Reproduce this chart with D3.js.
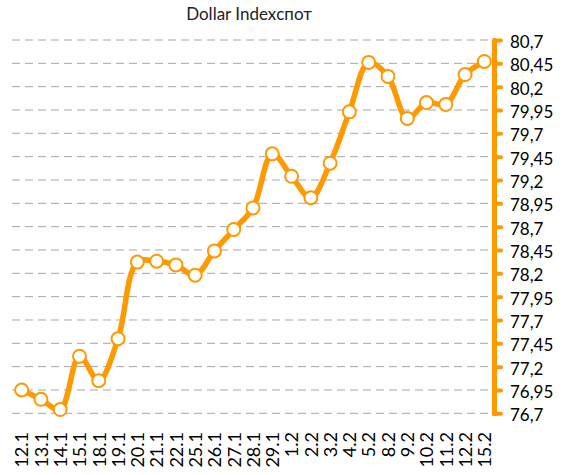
<!DOCTYPE html>
<html>
<head>
<meta charset="utf-8">
<script src="https://cdn.jsdelivr.net/npm/d3@7"></script>
<style>
  html, body { margin: 0; padding: 0; background: #fff; }
  svg { display: block; font-family: Lato, "Noto Sans", sans-serif; }
</style>
</head>
<body>
<svg id="chart" width="574" height="475"></svg>
<script>
// Dollar Index spot quotes, January–February
const dates = ["12.1","13.1","14.1","15.1","18.1","19.1","20.1","21.1","22.1","25.1","26.1","27.1","28.1","29.1",
               "1.2","2.2","3.2","4.2","5.2","8.2","9.2","10.2","11.2","12.2","15.2"];
const values = [76.95, 76.85, 76.74, 77.31, 77.05, 77.50, 78.32, 78.33, 78.29, 78.18, 78.44, 78.67, 78.90, 79.48,
                79.24, 79.01, 79.38, 79.93, 80.46, 80.31, 79.86, 80.03, 80.01, 80.33, 80.47];
const yTicks = [76.7, 76.95, 77.2, 77.45, 77.7, 77.95, 78.2, 78.45, 78.7, 78.95, 79.2, 79.45, 79.7, 79.95, 80.2, 80.45, 80.7];
const title = "Dollar Indexспот";

const orange = "#FF9900";
const svg = d3.select("#chart");

const x = d3.scalePoint().domain(dates).range([12, 494]).padding(0.5);
const y = d3.scaleLinear().domain([76.7, 80.7]).range([413.3, 40]);

const fmt = v => String(+v.toFixed(2)).replace(".", ",");

// dashed horizontal gridlines
svg.append("g")
  .selectAll("line")
  .data(yTicks)
  .join("line")
  .attr("x1", 12).attr("x2", 490)
  .attr("y1", d => y(d)).attr("y2", d => y(d))
  .attr("stroke", "#a6a6a6")
  .attr("stroke-width", 1)
  .attr("stroke-dasharray", "8,5");

// title
svg.append("text")
  .attr("x", 249).attr("y", 20)
  .attr("text-anchor", "middle")
  .attr("font-size", 17)
  .attr("fill", "#222")
  .text(title);

// smoothed series line
const line = d3.line()
  .x((d, i) => x(dates[i]))
  .y(d => y(d))
  .curve(d3.curveCatmullRom.alpha(0.5));

svg.append("path")
  .datum(values)
  .attr("d", line)
  .attr("fill", "none")
  .attr("stroke", orange)
  .attr("stroke-width", 5.5)
  .attr("stroke-linejoin", "round")
  .attr("stroke-linecap", "round");

// point markers
svg.append("g")
  .selectAll("circle")
  .data(values)
  .join("circle")
  .attr("cx", (d, i) => x(dates[i]))
  .attr("cy", d => y(d))
  .attr("r", 6.5)
  .attr("fill", "#fff")
  .attr("stroke", orange)
  .attr("stroke-width", 2);

// right value axis
const yAxis = svg.append("g")
  .attr("transform", "translate(494,0)")
  .call(d3.axisRight(y).tickValues(yTicks).tickFormat(fmt).tickSize(7).tickSizeOuter(0).tickPadding(9));
yAxis.select(".domain")
  .attr("stroke", orange).attr("stroke-width", 5).attr("stroke-linecap", "round");
yAxis.selectAll(".tick line")
  .attr("stroke", orange).attr("stroke-width", 4).attr("stroke-linecap", "round");
yAxis.selectAll(".tick text")
  .attr("font-size", 17).attr("fill", "#000")
  .attr("font-family", "Lato, 'Noto Sans', sans-serif")
  .attr("dy", "0.45em");

// category axis with vertical labels
const xAxis = svg.append("g")
  .attr("transform", "translate(0,414)")
  .call(d3.axisBottom(x).tickSize(0));
xAxis.select(".domain").remove();
xAxis.selectAll(".tick text")
  .attr("transform", "rotate(-90)")
  .attr("x", -18).attr("y", 0).attr("dy", "0.35em")
  .attr("text-anchor", "end")
  .attr("font-size", 18).attr("fill", "#000")
  .attr("font-family", "Lato, 'Noto Sans', sans-serif");
</script>
</body>
</html>
